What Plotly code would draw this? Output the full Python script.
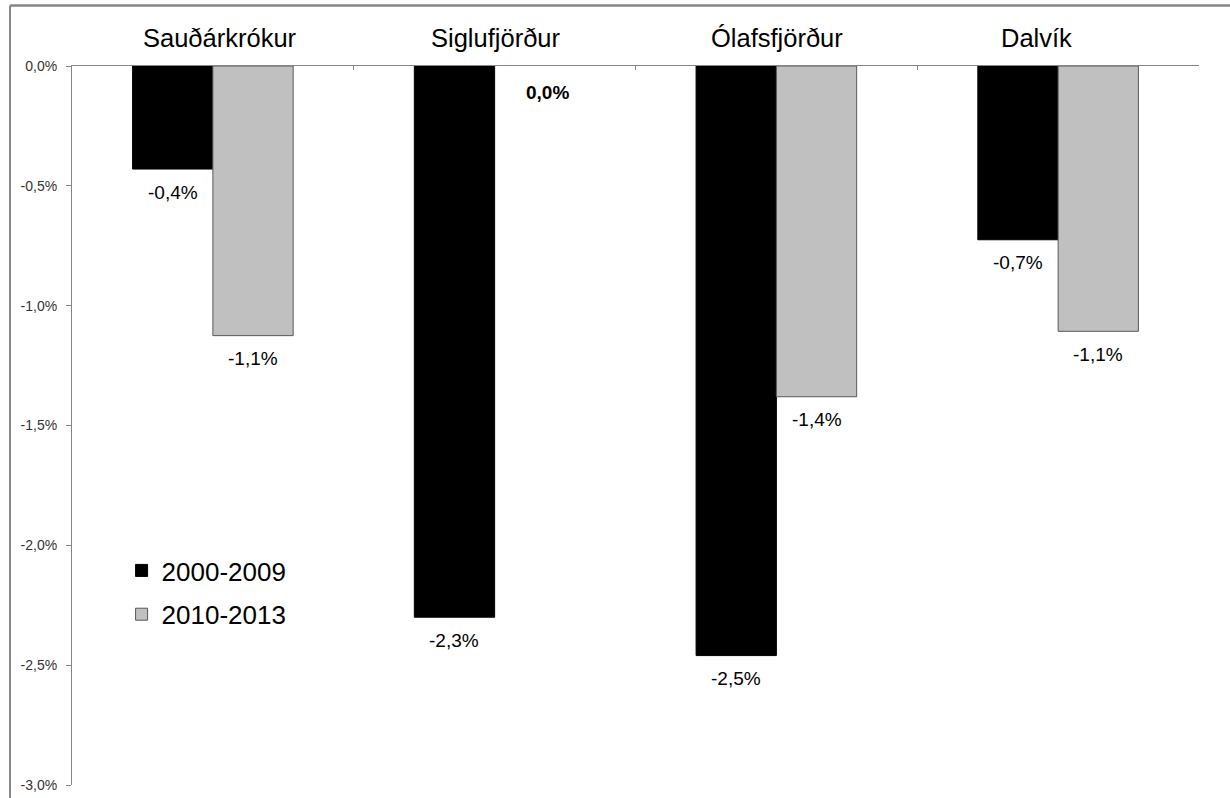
import plotly.graph_objects as go

categories = ["Sauðárkrókur", "Siglufjörður", "Ólafsfjörður", "Dalvík"]
series_names = ["2000-2009", "2010-2013"]
values_2000_2009 = [-0.43, -2.30, -2.46, -0.725]
values_2010_2013 = [-1.125, 0.0, -1.38, -1.107]
tick_values = [0.0, -0.5, -1.0, -1.5, -2.0, -2.5, -3.0]
tick_labels = ["0,0%", "-0,5%", "-1,0%", "-1,5%", "-2,0%", "-2,5%", "-3,0%"]

# style: horizontal nudge (px) of each category heading, as in the source
heading_nudge = [7, 1, 1, -22]

colors = ["#000000", "#C0C0C0"]
line_colors = ["#000000", "#595959"]
FONT = "Liberation Sans, Arial, sans-serif"

W, H = 1230, 798
ml, mr, mt, mb = 72, 31, 66, 13
plot_w = W - ml - mr
plot_h = H - mt - mb
bargap = 0.43
bar_px = plot_w / len(categories) * (1 - bargap) / 2


def fmt(v):
    return f"{v:.1f}".replace(".", ",").replace("-0,0", "0,0") + "%"


fig = go.Figure()
all_series = [values_2000_2009, values_2010_2013]
for i, (name, vals) in enumerate(zip(series_names, all_series)):
    fig.add_trace(go.Bar(
        x=categories, y=vals, name=name,
        marker=dict(color=colors[i],
                    line=dict(color=line_colors[i], width=[0 if v == 0 else 1 for v in vals])),
        legendgroup=name,
    ))

annotations = []
for i, vals in enumerate(all_series):
    shift = (-1 if i == 0 else 1) * bar_px / 2
    for c, v in zip(categories, vals):
        bold = (v == 0)
        annotations.append(dict(
            x=c, y=v, xref="x", yref="y",
            text=("<b>" + fmt(v) + "</b>") if bold else fmt(v),
            showarrow=False, xshift=shift + (13 if bold else 0), yshift=-23 if not bold else -26,
            yanchor="middle", xanchor="center",
            font=dict(family=FONT, size=19, color="#000000"),
        ))

for c, dx in zip(categories, heading_nudge):
    annotations.append(dict(
        x=c, y=1, xref="x", yref="paper", text=c, showarrow=False,
        xshift=dx, yshift=28, xanchor="center", yanchor="middle",
        font=dict(family=FONT, size=25.5, color="#000000"),
    ))

border_color = "#868686"
top_y = 1 + (mt - 5.5) / plot_h
left_x = (10 - ml) / plot_w
fig.update_layout(
    width=W, height=H,
    margin=dict(l=ml, r=mr, t=mt, b=mb, autoexpand=False),
    paper_bgcolor="white", plot_bgcolor="white",
    barmode="group", bargap=bargap, bargroupgap=0,
    showlegend=True,
    legend=dict(
        x=0.044, y=0.331, xanchor="left", yanchor="top",
        font=dict(family=FONT, size=26, color="#000000"),
        bgcolor="rgba(0,0,0,0)", tracegroupgap=7, traceorder="grouped",
    ),
    annotations=annotations,
    shapes=[
        dict(type="line", xref="paper", yref="paper", layer="above",
             x0=left_x, x1=(W + 5 - ml) / plot_w, y0=top_y, y1=top_y,
             line=dict(color=border_color, width=2.5)),
        dict(type="line", xref="paper", yref="paper", layer="above",
             x0=left_x, x1=left_x, y0=-(mb + 5) / plot_h, y1=top_y,
             line=dict(color=border_color, width=2)),
    ],
)

fig.update_xaxes(
    side="top", showline=True, linecolor=border_color, linewidth=1,
    ticks="inside", tickson="boundaries", ticklen=4, tickcolor=border_color,
    showgrid=False, zeroline=False, automargin=False, showticklabels=False,
)
fig.update_yaxes(
    range=[-3.0, 0.0], showline=True, linecolor=border_color, linewidth=1,
    ticks="outside", ticklen=5, tickcolor=border_color,
    tickvals=tick_values, ticktext=tick_labels,
    showgrid=False, zeroline=False, automargin=False,
    tickfont=dict(family=FONT, size=14, color="#333333"),
    ticklabelstandoff=6,
)

fig.write_html(
    "out.html",
    config={"displayModeBar": False},
    post_script="document.body.style.margin='0';document.body.style.overflow='hidden';",
)
